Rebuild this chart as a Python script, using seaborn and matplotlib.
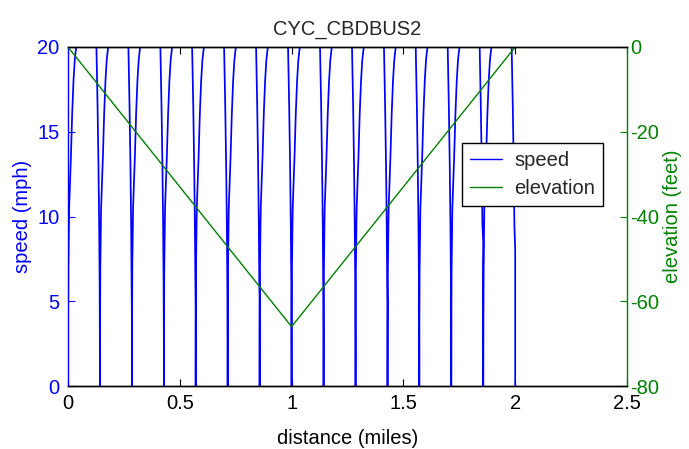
import matplotlib
matplotlib.use("Agg")
import matplotlib.pyplot as plt
import seaborn as sns
import pandas as pd
from matplotlib.lines import Line2D

# Bus stops along the route (miles) and the last logged speed before each halt (mph)
stop_miles = [0.143, 0.286, 0.429, 0.571, 0.714, 0.857, 1.0,
              1.143, 1.286, 1.429, 1.571, 1.714, 1.857]
stop_entry_mph = [1.4, 3.4, 1.8, 4.3, 2.6, 5.2, 1.0,
                  3.0, 2.2, 4.8, 1.6, 3.8, 8.5]
start_mile = 0.0
end_mile = 2.0
end_entry_mph = 8.0

# Braking samples: distance before the stop (miles) and speed (mph)
brake_offset = [-0.0159, -0.0108, -0.0067, -0.0036, -0.0014]
brake_mph = [20.0, 16.5, 13.0, 9.5, 6.0]

# Launch samples: distance after the stop (miles) and speed (mph)
launch_offset = [0.0, 0.0004, 0.0016, 0.0050, 0.0130, 0.0185,
                 0.0245, 0.0300, 0.0340, 0.0370]
launch_mph = [0.0, 3.5, 7.0, 10.5, 13.5, 16.0, 18.0, 19.2, 19.7, 20.0]

# Elevation profile (feet) along the route
elev_miles = [0.0, 1.0, 2.0]
elev_feet = [0.0, -66.0, 0.0]

BLUE = "#0000ff"
GREEN = "#008000"

dist, speed = [], []


def launch(at):
    for o, s in zip(launch_offset, launch_mph):
        dist.append(at + o)
        speed.append(s)


def brake(at, entry):
    for o, s in zip(brake_offset, brake_mph):
        if s > entry:
            dist.append(at + o)
            speed.append(s)
    dist.extend([at, at])
    speed.extend([entry, 0.0])


launch(start_mile)
for m, e in zip(stop_miles, stop_entry_mph):
    brake(m, e)
    launch(m)
brake(end_mile, end_entry_mph)

speed_df = pd.DataFrame({"distance": dist, "speed": speed})
elev_df = pd.DataFrame({"distance": elev_miles, "elevation": elev_feet})

sns.set_style("white")
plt.rcParams["font.family"] = ["Liberation Sans", "DejaVu Sans"]
plt.rcParams["axes.unicode_minus"] = False
FS = 14.5

fig = plt.figure(figsize=(6.89, 4.49), dpi=100)
ax1 = fig.add_axes([68 / 689, 1 - 386 / 449, 559 / 689, 339 / 449])
ax2 = ax1.twinx()

sns.lineplot(data=speed_df, x="distance", y="speed", sort=False, estimator=None,
             color=BLUE, linewidth=1.25, ax=ax1)
sns.lineplot(data=elev_df, x="distance", y="elevation", sort=False, estimator=None,
             color=GREEN, linewidth=1.0, ax=ax2)

ax1.set_xlim(0, 2.5)
ax1.set_ylim(0, 20)
ax2.set_ylim(-80, 0)
ax1.set_xticks([0, 0.5, 1, 1.5, 2, 2.5])
ax1.set_xticklabels(["0", "0.5", "1", "1.5", "2", "2.5"])
ax1.set_yticks([0, 5, 10, 15, 20])
ax2.set_yticks([-80, -60, -40, -20, 0])

ax1.tick_params(axis="x", direction="in", top=True, bottom=True, length=5,
                width=0.8, colors="black", labelsize=FS, pad=6)
ax1.tick_params(axis="y", direction="in", left=True, right=False, length=5,
                width=0.8, colors=BLUE, labelsize=FS, pad=6)
ax2.tick_params(axis="y", direction="in", right=True, left=False, length=5,
                width=0.8, colors=GREEN, labelsize=FS, pad=2)

for ax in (ax1, ax2):
    for sp in ax.spines.values():
        sp.set_linewidth(1.0)
        sp.set_color("black")
ax1.spines["left"].set_color(BLUE)
ax1.spines["right"].set_visible(False)
ax2.spines["left"].set_visible(False)
ax2.spines["right"].set_color(GREEN)

ax1.set_xlabel("distance (miles)", fontsize=FS, color="black", labelpad=11)
ax1.set_ylabel("speed (mph)", fontsize=FS, color=BLUE, labelpad=4)
ax2.set_ylabel("elevation (feet)", fontsize=FS, color=GREEN, labelpad=3)
ax1.set_title("CYC_CBDBUS2", fontsize=FS, pad=9)

handles = [Line2D([], [], color=BLUE, linewidth=1.0),
           Line2D([], [], color=GREEN, linewidth=1.0)]
leg = ax2.legend(handles, ["speed", "elevation"], loc="upper left",
                 bbox_to_anchor=(0.705, 0.717), borderaxespad=0, fontsize=FS,
                 frameon=True, fancybox=False, framealpha=1, edgecolor="black",
                 handlelength=1.6, handletextpad=0.6, borderpad=0.4,
                 labelspacing=0.45)
leg.get_frame().set_linewidth(1.0)

fig.savefig("out.png", dpi=100)
